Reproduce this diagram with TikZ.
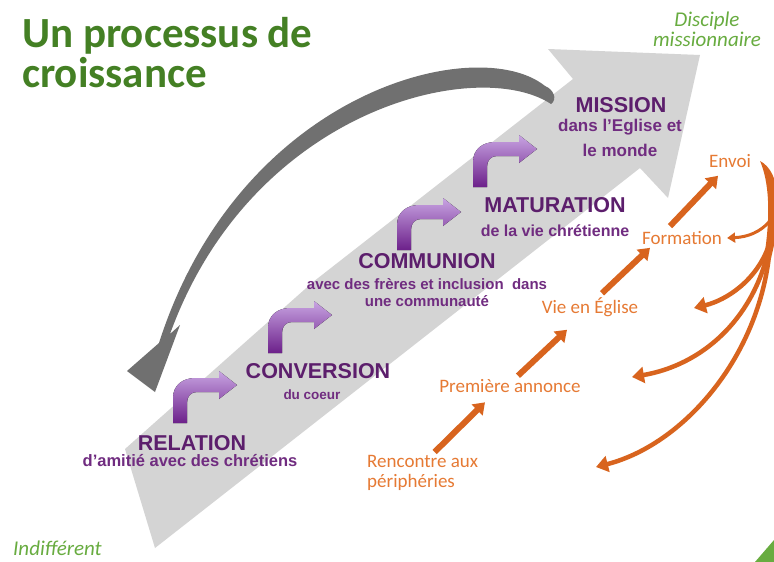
\documentclass[tikz,border=0pt]{standalone}
\usepackage{fontspec}
\usetikzlibrary{arrows.meta}
\newfontfamily\arialfont{Liberation Sans}
\newfontfamily\calfont{Carlito}
\definecolor{bandgrey}{RGB}{212,212,212}
\definecolor{arcgrey}{RGB}{112,112,112}
\definecolor{purpledark}{RGB}{92,30,108}
\definecolor{purplemid}{RGB}{112,44,128}
\definecolor{purplelight}{RGB}{200,164,226}
\definecolor{purpledeep}{RGB}{108,32,138}
\definecolor{orangedark}{RGB}{216,100,30}
\definecolor{orangetext}{RGB}{230,122,52}
\definecolor{titlegreen}{RGB}{68,128,36}
\definecolor{softgreen}{RGB}{104,172,64}

\tikzset{
  bentarrow/.pic={
    \fill[top color=purplelight, bottom color=purpledeep] (0,0) -- (0,25) .. controls (0,38) and (10,45) .. (22,45) -- (46,45) -- (46,52) -- (64,38) -- (46,24) -- (46,31) -- (24,31) .. controls (18,31) and (14,27) .. (14,20) -- (14,0) -- cycle;
  }
}

\begin{document}
\begin{tikzpicture}[x=1pt,y=1pt,yscale=-1,
    heading/.style={text=purpledark, font=\arialfont\bfseries\fontsize{21.5}{23}\selectfont, inner sep=0pt},
    subhead/.style={text=purplemid, font=\arialfont\bfseries\fontsize{#1}{17}\selectfont, inner sep=0pt, align=center},
    steptext/.style={text=orangetext, font=\calfont\fontsize{19}{20}\selectfont, inner sep=1pt},
    orangeline/.style={draw=orangedark, line width=6pt, -{Triangle[width=15pt,length=11pt]}},
    branch/.style={draw=orangedark, line width=4.5pt, -{Triangle[width=16pt,length=12pt]}},
    greennote/.style={text=softgreen, font=\calfont\itshape\fontsize{21}{22}\selectfont, inner sep=0pt}]

    \useasboundingbox (0,0) rectangle (774,562);
    \fill[white] (0,0) rectangle (774,562);

    %Shape: big grey arrow
    \fill[bandgrey] (125,449) -- (313,282) -- (573,79) -- (548,49) -- (700,55) -- (668,198) -- (640,168) -- (155,548) -- cycle;

    %Shape: dark curved arrow back to the start
    \fill[arcgrey] (545,86) .. controls (478,32) and (240,90) .. (159,343) -- (127,371) -- (155,392) -- (180,325) -- (170,334) .. controls (252,108) and (478,56) .. (551,104) .. controls (558,99) and (553,89) .. (545,86) -- cycle;

    %Shape: bent arrows
    \pic at (173,423) {bentarrow};
    \pic at (268,353) {bentarrow};
    \pic at (397,250) {bentarrow};
    \pic at (473,187) {bentarrow};

    % Title
    \node[text=titlegreen, font=\calfont\bfseries\fontsize{43}{44}\selectfont, anchor=base west, inner sep=0pt] (title1) at (22,47) {Un processus de};
    \node[text=titlegreen, font=\calfont\bfseries\fontsize{43}{44}\selectfont, anchor=base west, inner sep=0pt] (title2) at (22,87) {croissance};
    \node[greennote, anchor=north, align=center, font=\calfont\itshape\fontsize{21}{20}\selectfont] (disciple) at (707,12) {Disciple\\missionnaire};
    \node[greennote, anchor=base west] (indiff) at (13,555) {Indifférent};

    % Text Node: steps
    \node[heading] (relation) at (192,443.5) {RELATION};
    \node[subhead=16.5] (relationsub) at (190,461) {d’amitié avec des chrétiens};
    \node[heading] (conversion) at (318,371.5) {CONVERSION};
    \node[subhead=13.5] (conversionsub) at (312,395) {du coeur};
    \node[heading] (communion) at (427,261.5) {COMMUNION};
    \node[subhead=15] (communionsub) at (427,293) {avec des frères et inclusion~ dans\\une communauté};
    \node[heading] (maturation) at (555,205.5) {MATURATION};
    \node[subhead=16] (maturationsub) at (555,231) {de la vie chrétienne};
    \node[heading] (mission) at (621,105) {MISSION};
    \node[subhead=17, font=\arialfont\bfseries\fontsize{17}{25}\selectfont] (missionsub) at (620,138) {dans l’Eglise et\\le monde};

    % Text Node: orange path
    \node[steptext] (envoi) at (730,161) {Envoi};
    \node[steptext] (formation) at (682,238) {Formation};
    \node[steptext] (vie) at (590,307) {Vie en Église};
    \node[steptext] (premiere) at (510,386.5) {Première annonce};
    \node[steptext, anchor=north west, align=left] (rencontre) at (366,454) {Rencontre aux\\périphéries};

    \draw[orangeline] ([xshift=12pt,yshift=-2pt]rencontre.north) -- ([xshift=-25pt,yshift=8pt]premiere.south);
    \draw[orangeline] ([xshift=8pt,yshift=-3pt]premiere.north) -- ([xshift=-23pt,yshift=12pt]vie.south);
    \draw[orangeline] ([xshift=12pt,yshift=-3pt]vie.north) -- ([xshift=-32pt,yshift=2pt]formation.south);
    \draw[orangeline] ([xshift=-12pt,yshift=-4pt]formation.north) -- ([xshift=-12pt,yshift=7pt]envoi.south);

    %Shape: orange return arrows
    \coordinate (back1) at (694,308);
    \coordinate (back2) at (632,377);
    \coordinate (back3) at (596,467);
    \fill[orangedark] ([xshift=8pt]envoi.east) .. controls (781,172) and (783,212) .. (771,258) -- (764,258) .. controls (771,214) and (769,182) .. ([xshift=8pt]envoi.east) -- cycle;
    \draw[draw=orangedark, line width=3pt, -{Triangle[width=10pt,length=8pt]}] (769,222) .. controls (760,232) and (748,237) .. ([xshift=4pt]formation.east);
    \draw[branch] (769,245) .. controls (757,280) and (727,300) .. (back1);
    \draw[branch] (768,252) .. controls (752,320) and (702,365) .. (back2);
    \draw[branch] (769,256) .. controls (757,360) and (682,445) .. (back3);

    %Shape: corner mark
    \fill[softgreen] (774,540) -- (774,562) -- (755,562) -- cycle;
\end{tikzpicture}
\end{document}
